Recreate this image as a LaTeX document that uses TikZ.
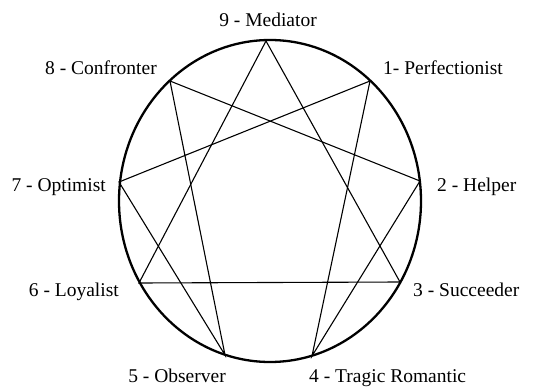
\documentclass[tikz,border=0pt]{standalone}
\usepackage{fontspec}
\setmainfont{Liberation Serif}
\usepackage{tikz}
\usetikzlibrary{positioning}

\tikzset{
  ring/.style={line width=2.3pt, black},
  chord/.style={line width=1.1pt, black, line join=miter},
  typelabel/.style={inner sep=0pt, font=\fontsize{19.5}{22}\selectfont}
}

\begin{document}
\begin{tikzpicture}[x=1pt, y=-1pt]
    \useasboundingbox (0,0) rectangle (552,388);
    % outer circle
    \draw[ring] (270,201) ellipse [x radius=151, y radius=161];
    % points on the circle
    \coordinate (p9) at (266,41);
    \coordinate (p1) at (370,81);
    \coordinate (p2) at (420,181);
    \coordinate (p3) at (400,282);
    \coordinate (p4) at (312,356);
    \coordinate (p5) at (225,355);
    \coordinate (p6) at (139,283);
    \coordinate (p7) at (119,182);
    \coordinate (p8) at (170,81);
    % triangle 9-3-6
    \draw[chord] (p9) -- (p3) -- (p6) -- cycle;
    % hexad 1-4-2-8-5-7
    \draw[chord] (p1) -- (p4) -- (p2) -- (p8) -- (p5) -- (p7) -- cycle;
    % type labels
    \node[typelabel, anchor=base] (l9) at (268,26) {9 - Mediator};
    \node[typelabel, anchor=base west] (l1) at (383,74) {1- Perfectionist};
    \node[typelabel, anchor=base west] (l2) at (437,191) {2 - Helper};
    \node[typelabel, anchor=base west] (l3) at (413,296) {3 - Succeeder};
    \node[typelabel, anchor=base west] (l4) at (309,382) {4 - Tragic Romantic};
    \node[typelabel, anchor=base east] (l5) at (226,382) {5 - Observer};
    \node[typelabel, anchor=base east] (l6) at (119,296) {6 - Loyalist};
    \node[typelabel, anchor=base east] (l7) at (106,191) {7 - Optimist};
    \node[typelabel, anchor=base east] (l8) at (157,74) {8 - Confronter};
\end{tikzpicture}
\end{document}
